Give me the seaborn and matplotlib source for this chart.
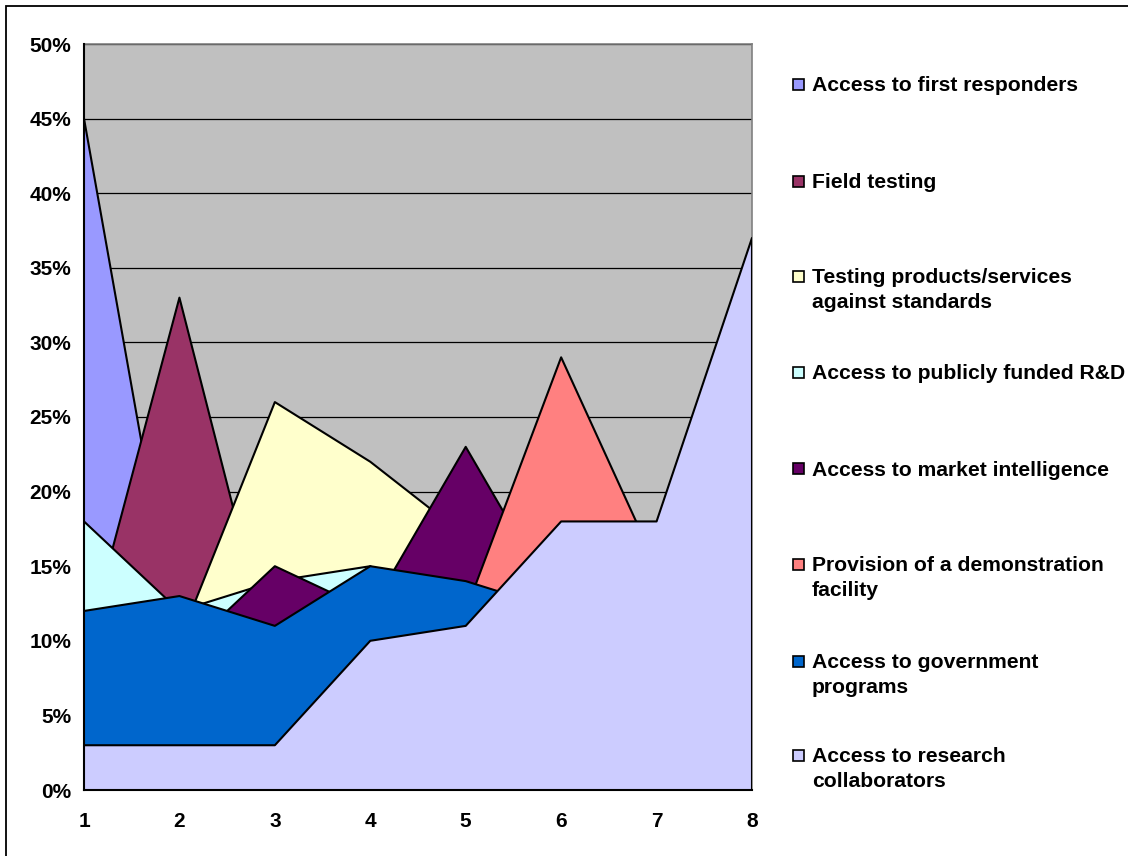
import matplotlib
matplotlib.use("Agg")
import matplotlib.pyplot as plt
import numpy as np
import pandas as pd
import seaborn as sns
from matplotlib.patches import Rectangle

# ---- data -------------------------------------------------------------
groups = [1, 2, 3, 4, 5, 6, 7, 8]

series_names = [
    "Access to first responders",
    "Field testing",
    "Testing products/services\nagainst standards",
    "Access to publicly funded R&D",
    "Access to market intelligence",
    "Provision of a demonstration\nfacility",
    "Access to government\nprograms",
    "Access to research\ncollaborators",
]

first_responders = [45, 9, 6, 8, 5, 9, 7, 12]
field_testing = [9, 33, 8, 6, 7, 10, 8, 11]
testing_standards = [6, 10, 26, 22, 17, 12, 9, 13]
public_rd = [18, 12, 14, 15, 10, 9, 7, 8]
market_intelligence = [5, 9, 15, 12, 23, 12, 8, 10]
demonstration = [6, 4, 5, 7, 12, 29, 15, 14]
government_programs = [12, 13, 11, 15, 14, 12, 10, 14]
research_collaborators = [3, 3, 3, 10, 11, 18, 18, 37]

series_values = [
    first_responders, field_testing, testing_standards, public_rd,
    market_intelligence, demonstration, government_programs,
    research_collaborators,
]

series_colors = [
    "#9999FF", "#993366", "#FFFFCC", "#CCFFFF",
    "#660066", "#FF8080", "#0066CC", "#CCCCFF",
]

y_ticks = [0, 5, 10, 15, 20, 25, 30, 35, 40, 45, 50]

# ---- long-form table --------------------------------------------------
frames = []
for name, vals in zip(series_names, series_values):
    frames.append(pd.DataFrame({"group": groups, "value": vals, "series": name}))
long_df = pd.concat(frames, ignore_index=True)

# ---- style ------------------------------------------------------------
sns.set_style("white")
plt.rcParams["font.family"] = ["Liberation Sans", "DejaVu Sans"]
plt.rcParams["font.weight"] = "bold"
plt.rcParams["text.color"] = "black"
plt.rcParams["xtick.color"] = "black"
plt.rcParams["ytick.color"] = "black"
plt.rcParams["xtick.labelcolor"] = "black"
plt.rcParams["ytick.labelcolor"] = "black"

W, H = 1128, 856
fig = plt.figure(figsize=(W / 100, H / 100), dpi=100)
ax = fig.add_axes([84 / W, 66 / H, 668 / W, 746 / H])
ax.set_facecolor("#C0C0C0")

# overlapping areas, first series at the back
for i, (name, color) in enumerate(zip(series_names, series_colors)):
    sub = long_df[long_df["series"] == name]
    ax.fill_between(sub["group"], 0, sub["value"], facecolor=color,
                    edgecolor="none", zorder=2 + 2 * i)
    sns.lineplot(data=sub, x="group", y="value", color="black", lw=1.5,
                 ax=ax, zorder=3 + 2 * i, legend=False)

# right-hand edge of the front area
ax.vlines(groups[-1], 0, research_collaborators[-1], color="black",
          lw=1.5, zorder=20)

ax.set_xlim(groups[0], groups[-1])
ax.set_ylim(y_ticks[0], y_ticks[-1])
ax.set_xticks(groups)
ax.set_xticklabels([str(g) for g in groups])
ax.set_yticks(y_ticks)
ax.set_yticklabels([f"{v}%" for v in y_ticks])
ax.set_xlabel("")
ax.set_ylabel("")

ax.yaxis.grid(True, color="black", lw=0.9)
ax.xaxis.grid(False)
ax.set_axisbelow(True)

for side in ("left", "bottom"):
    ax.spines[side].set_color("black")
    ax.spines[side].set_linewidth(1.5)
    ax.spines[side].set_zorder(25)
for side in ("top", "right"):
    ax.spines[side].set_color("#808080")
    ax.spines[side].set_linewidth(1.2)

ax.tick_params(axis="both", which="major", direction="out", length=6,
               width=1.2, color="black", labelsize=15, labelcolor="black")
ax.tick_params(axis="y", pad=3)
ax.tick_params(axis="x", pad=10)
for lab in ax.get_xticklabels() + ax.get_yticklabels():
    lab.set_fontweight("bold")

# ---- legend -----------------------------------------------------------
legend_first_line = [84, 181, 276, 372, 469, 564, 661, 755]
for name, color, yc in zip(series_names, series_colors, legend_first_line):
    fig.patches.append(Rectangle((793 / W, 1 - (yc + 5.5) / H), 11 / W, 11 / H,
                                 transform=fig.transFigure, facecolor=color,
                                 edgecolor="black", lw=1.2))
    fig.text(812 / W, 1 - (yc - 8) / H, name, ha="left", va="top",
             fontsize=15.2, fontweight="bold", linespacing=1.38, color="black")

# ---- chart frame ------------------------------------------------------
fig.patches.append(Rectangle((6 / W, -0.05), 1.2, 1 - 6 / H + 0.05,
                             transform=fig.transFigure, facecolor="none",
                             edgecolor="black", lw=1.3))

fig.savefig("out.png", dpi=100)
